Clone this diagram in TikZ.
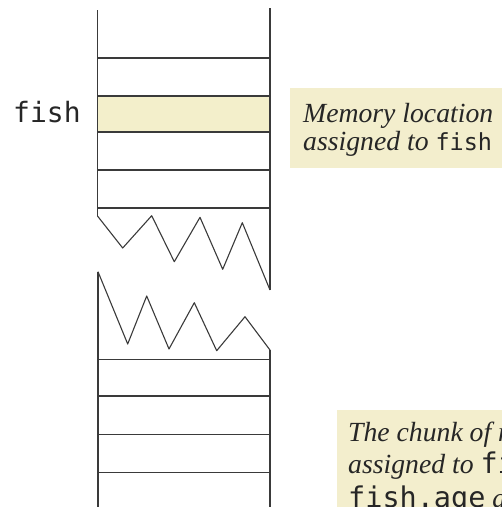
\documentclass[tikz,border=0pt]{standalone}
\usepackage{fontspec}
\setmainfont{Liberation Serif}
\newfontfamily\codefont{DejaVu Sans Mono}
\definecolor{cellline}{HTML}{3A3A3A}
\definecolor{notefill}{HTML}{F3EECD}
\definecolor{cellfill}{HTML}{F3EFCB}
\newcommand{\code}[2]{{\codefont\upshape\fontsize{#1}{#1}\selectfont #2}}
\tikzset{
  wall/.style={draw=cellline, line width=1.1pt, line join=round},
  note/.style={fill=notefill, draw=none},
  notetext/.style={anchor=base west, inner sep=0pt,
    font=\itshape\fontsize{27.7}{30}\selectfont, text=black!85},
}
\begin{document}
\begin{tikzpicture}[x=1pt,y=-1pt]
\useasboundingbox (0,0) rectangle (502,507);
\clip (0,0) rectangle (502,507);

% highlighted cell holding fish
\fill[cellfill] (98,96) rectangle (270,132);

% upper part of the memory column
\draw[wall] (97.5,10) -- (97.5,216);
\draw[wall] (270,8) -- (270,290);
\foreach \y in {58,96,132,170,208}
  \draw[wall] (97.5,\y) -- (270,\y);

% torn edges
\draw[wall] (97.5,216) -- (122.7,248) -- (151.7,215.7) -- (174.3,261.7)
  -- (200,217.3) -- (222.7,269.3) -- (242.3,222.7) -- (270,290);
\draw[wall] (98,271.7) -- (127.7,344) -- (146.7,296) -- (169,349)
  -- (194.3,302.7) -- (216.7,350.7) -- (245,316.7) -- (270,350);

% lower part of the memory column
\draw[wall] (98,271.7) -- (98,510);
\draw[wall] (270,350) -- (270,510);
\foreach \y in {359.3,396,434.3,472.3}
  \draw[wall] (98,\y) -- (270,\y);

% variable name
\node[anchor=base west, inner sep=0pt, text=black!85] (varname) at (13,122)
  {\code{28}{fish}};

% note on the single location
\fill[note] (290,88) rectangle (510,168);
\node[notetext] (noteAa) at (303,122) {Memory location};
\node[notetext] (noteAb) at (303,150) {assigned to \code{23.5}{fish}};

% note on the chunk of memory
\fill[note] (337,410) rectangle (515,515);
\node[notetext] (noteBa) at (348,441) {The chunk of memory};
\node[notetext] (noteBb) at (348,473) {assigned to \code{28.5}{fish.name}};
\node[notetext] (noteBc) at (348,507) {\code{28.5}{fish.age} and};
\end{tikzpicture}
\end{document}
